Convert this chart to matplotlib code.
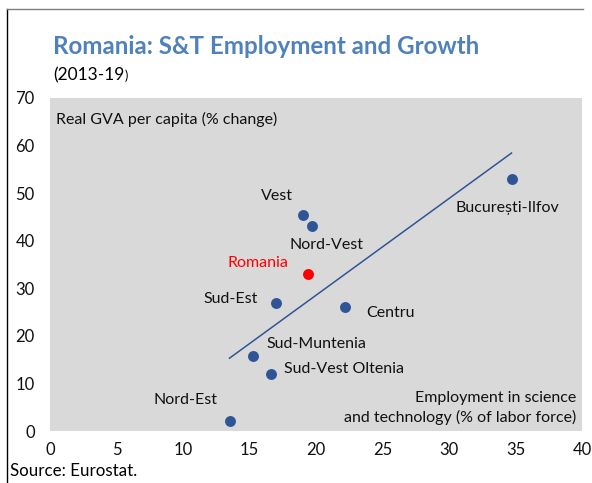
import numpy as np
import matplotlib.pyplot as plt
from matplotlib.lines import Line2D

# Data
regions = ['Nord-Est', 'Sud-Vest Oltenia', 'Sud-Muntenia', 'Sud-Est', 'Centru',
           'Vest', 'Nord-Vest', 'București-Ilfov']
st_employment = [13.5, 16.6, 15.3, 17.0, 22.2, 19.0, 19.7, 34.7]
gva_growth = [2.1, 12.0, 15.8, 26.9, 26.0, 45.4, 43.1, 52.9]
national_name = 'Romania'
national_x = 19.4
national_y = 33.0
x_ticks = [0, 5, 10, 15, 20, 25, 30, 35, 40]
y_ticks = [0, 10, 20, 30, 40, 50, 60, 70]

# label offsets in pixels from each point
label_offsets = {
    'Nord-Est': (-44, 21), 'Sud-Vest Oltenia': (73, 5), 'Sud-Muntenia': (63, 12),
    'Sud-Est': (-45, 4), 'Centru': (45, -6), 'Vest': (-26, 19),
    'Nord-Vest': (14, -19), 'București-Ilfov': (-4, -29),
}

plt.rcParams['font.family'] = ['Lato', 'DejaVu Sans']
DOT = '#2F5597'
FS = 11.5

fig = plt.figure(figsize=(5.92, 4.83), dpi=100)
ax = fig.add_axes([50 / 592, 1 - 431 / 483, 532 / 592, 333 / 483])
ax.set_facecolor('#D9D9D9')
for s in ax.spines.values():
    s.set_visible(False)

# trend line fitted on regions
coef = np.polyfit(st_employment, gva_growth, 1)
xs = np.array([min(st_employment), max(st_employment)])
ax.plot(xs, np.polyval(coef, xs), color=DOT, lw=1.1, zorder=2)

ax.scatter(st_employment, gva_growth, s=62, color=DOT, zorder=3, linewidths=0)
ax.scatter([national_x], [national_y], s=62, color='#FF0000', zorder=3, linewidths=0)

for name, x, y in zip(regions, st_employment, gva_growth):
    dx, dy = label_offsets[name]
    ax.annotate(name, (x, y), xytext=(dx, dy), textcoords='offset pixels',
                ha='center', va='center', fontsize=FS, color='#111111')
ax.annotate(national_name, (national_x, national_y), xytext=(-50, 11),
            textcoords='offset pixels', ha='center', va='center',
            fontsize=FS, color='#FF0000')

ax.set_xlim(0, 40)
ax.set_ylim(0, 70)
ax.set_xticks(x_ticks)
ax.set_yticks(y_ticks)
ax.tick_params(axis='both', length=0, labelsize=12, colors='#111111')
ax.tick_params(axis='y', pad=11)
ax.tick_params(axis='x', pad=8)

ax.text(0.012, 0.935, 'Real GVA per capita (% change)', transform=ax.transAxes,
        fontsize=FS, ha='left', va='center', color='#111111')
ax.text(0.99, 0.07, 'Employment in science\nand technology (% of labor force)',
        transform=ax.transAxes, fontsize=FS, ha='right', va='center',
        multialignment='right', color='#111111', linespacing=1.4)

fig.text(53 / 592, 1 - 47 / 483, 'Romania: S&T Employment and Growth',
         fontsize=17.4, fontweight='bold', color='#4F81BD', ha='left', va='center')
sub = fig.text(53 / 592, 1 - 75 / 483, '(2013-19', fontsize=12.5, ha='left', va='center')
fig.canvas.draw()
bb = sub.get_window_extent()
fig.text(bb.x1 / 592, 1 - 76 / 483, ')', fontsize=9, ha='left', va='center')
fig.text(10 / 592, 1 - 471 / 483, 'Source: Eurostat.', fontsize=12.2, ha='left', va='center')

# frame lines on left and top
fig.add_artist(Line2D([7 / 592, 7 / 592], [0, 1 - 9 / 483], transform=fig.transFigure,
                      color='#000000', lw=1))
fig.add_artist(Line2D([7 / 592, 583 / 592], [1 - 9 / 483, 1 - 9 / 483],
                      transform=fig.transFigure, color='#7f7f7f', lw=1))

fig.savefig('out.png', dpi=100)
